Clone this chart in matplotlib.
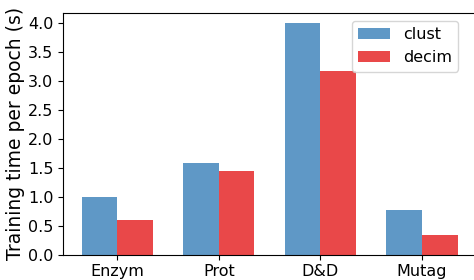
import numpy as np
import matplotlib
matplotlib.use('Agg')
import matplotlib.pyplot as plt

# dataset names and timings (s)
datasets = ['Enzym', 'Prot', 'D&D', 'Mutag']
clust = [1.0, 1.59, 4.0, 0.77]
decim = [0.6, 1.45, 3.18, 0.34]

cmap = plt.get_cmap('Set1')
num = np.arange(len(datasets))
width = 0.35

fig = plt.figure(figsize=(4.74, 2.8), dpi=100)
ax = fig.add_axes([0.133, 0.091, 0.872, 0.863])
ax.bar(num - width / 2, clust, width, color=cmap(1), alpha=0.8, label='clust')
ax.bar(num + width / 2, decim, width, color=cmap(0), alpha=0.8, label='decim')
ax.set_xticks(num)
ax.set_xticklabels(datasets, fontsize=11.5)
ax.set_yticks(np.arange(0, 4.01, 0.5))
ax.tick_params(axis='y', labelsize=11.5)
ax.set_ylabel('Training time per epoch (s)', fontsize=13.5, labelpad=2)
ax.set_ylim(0, 4.18)
ax.set_xlim(-0.535, 3.535)
ax.legend(loc='upper right', fontsize=11.5, handlelength=2.0, bbox_to_anchor=(0.975, 1.0))
fig.savefig('out.png', dpi=100)
